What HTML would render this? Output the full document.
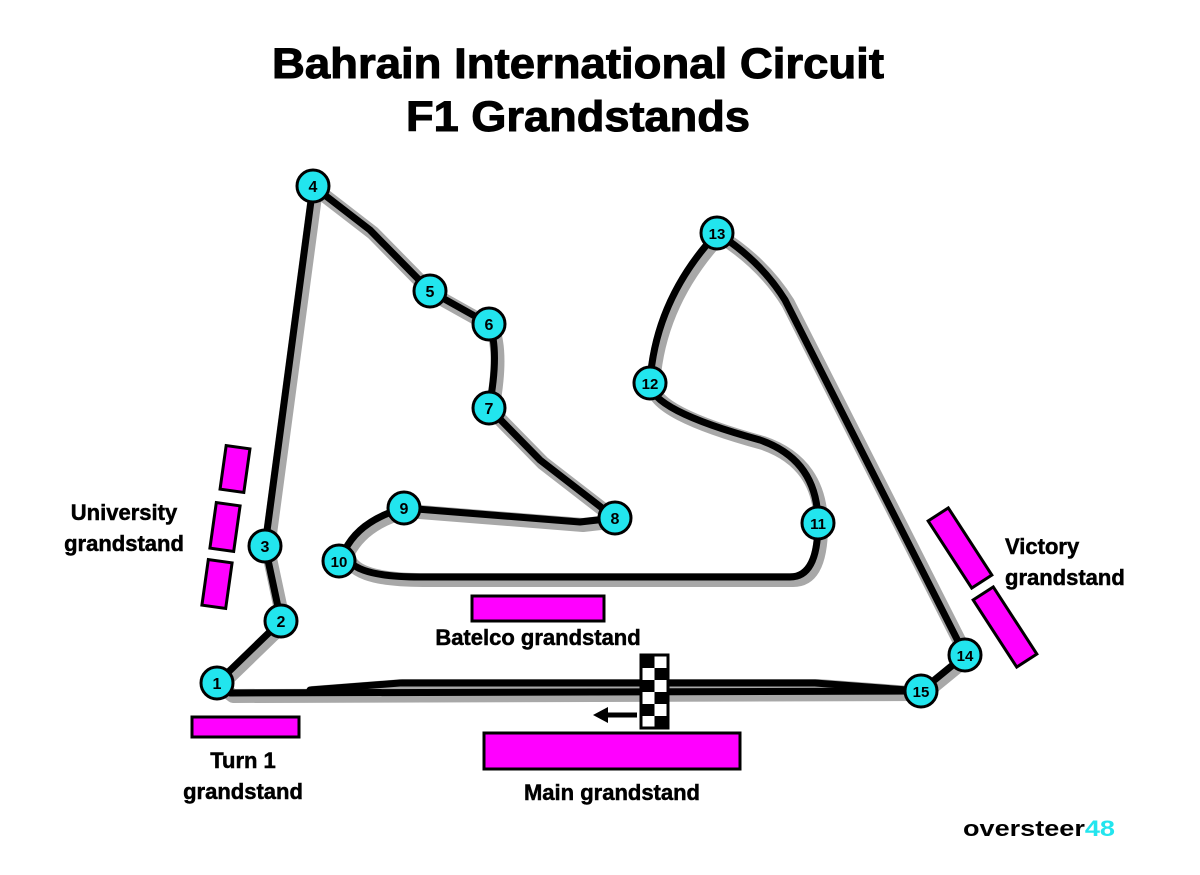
<!DOCTYPE html>
<html><head><meta charset="utf-8"><style>
html,body{margin:0;padding:0;background:#fff;}
svg{display:block;}
text{font-family:"Liberation Sans",sans-serif;font-weight:bold;}
</style></head><body>
<svg width="1200" height="875" viewBox="0 0 1200 875" xmlns="http://www.w3.org/2000/svg">
<rect width="1200" height="875" fill="#fff"/>
<text x="578" y="78" font-size="43" text-anchor="middle" fill="#000" stroke="#000" stroke-width="1" textLength="612" lengthAdjust="spacingAndGlyphs">Bahrain International Circuit</text>
<text x="578" y="131" font-size="43" text-anchor="middle" fill="#000" stroke="#000" stroke-width="1" textLength="344" lengthAdjust="spacingAndGlyphs">F1 Grandstands</text>

<g fill="none" stroke-linejoin="round" stroke-linecap="round">
<g stroke="#a8a8a8" stroke-width="14" transform="translate(3,3)">
<path d="M217,683 L281,621 L265,546 L313,186 L370,230 L430,291 L489,324 Q500,350 489,408 L540,460 L615,518 L580,522 L404,508 Q360,520 345,550 Q345,577 420,577 L790,577 Q818,577 818,523 Q818,460 760,440 Q650,410 650,383 Q655,300 717,233 Q760,260 785,300 L965,655 L921,691 L230,693 Z"/>
<path d="M310,690 L400,683 L815,683 L921,691"/>
</g>
<g stroke="#000" stroke-width="7">
<path d="M217,683 L281,621 L265,546 L313,186 L370,230 L430,291 L489,324 Q500,350 489,408 L540,460 L615,518 L580,522 L404,508 Q360,520 345,550 Q345,577 420,577 L790,577 Q818,577 818,523 Q818,460 760,440 Q650,410 650,383 Q655,300 717,233 Q760,260 785,300 L965,655 L921,691 L230,693 Z"/>
<path d="M310,690 L400,683 L815,683 L921,691"/>
</g>
</g>

<g fill="#ff00ff" stroke="#000" stroke-width="3">
<rect x="472" y="596" width="132" height="25"/>
<rect x="192" y="717" width="107" height="20"/>
<rect x="484" y="733" width="256" height="36"/>
<rect x="-12" y="-22" width="24" height="44" transform="translate(235,469) rotate(8)"/>
<rect x="-12" y="-23" width="24" height="46" transform="translate(225,527) rotate(8)"/>
<rect x="-12" y="-23" width="24" height="46" transform="translate(217,584) rotate(8)"/>
<rect x="-12" y="-40" width="24" height="80" transform="translate(960,548) rotate(-33)"/>
<rect x="-12" y="-40" width="24" height="80" transform="translate(1005,627) rotate(-33)"/>
</g>

<g>
<rect x="641" y="655" width="27" height="73" fill="#fff" stroke="#000" stroke-width="3"/>
<g fill="#000">
<rect x="642" y="656" width="12.5" height="12"/><rect x="654.5" y="668" width="12.5" height="12"/>
<rect x="642" y="680" width="12.5" height="12"/><rect x="654.5" y="692" width="12.5" height="12"/>
<rect x="642" y="704" width="12.5" height="12"/><rect x="654.5" y="716" width="12.5" height="11"/>
</g>
<line x1="605" y1="715" x2="637" y2="715" stroke="#000" stroke-width="5"/>
<polygon points="593,715 608,707 608,723" fill="#000"/>
</g>

<g font-size="16" text-anchor="middle" fill="#000">
<g stroke="#000" stroke-width="3" fill="#22e5ee">
<circle cx="217" cy="683" r="16"/><circle cx="281" cy="621" r="16"/><circle cx="265" cy="546" r="16"/>
<circle cx="313" cy="186" r="16"/><circle cx="430" cy="291" r="16"/><circle cx="489" cy="324" r="16"/>
<circle cx="489" cy="408" r="16"/><circle cx="615" cy="518" r="16"/><circle cx="404" cy="508" r="16"/>
<circle cx="339" cy="561" r="16"/><circle cx="818" cy="523" r="16"/><circle cx="650" cy="383" r="16"/>
<circle cx="717" cy="233" r="16"/><circle cx="965" cy="655" r="16"/><circle cx="921" cy="691" r="16"/>
</g>
<text x="217" y="689">1</text><text x="281" y="627">2</text><text x="265" y="552">3</text>
<text x="313" y="192">4</text><text x="430" y="297">5</text><text x="489" y="330">6</text>
<text x="489" y="414">7</text><text x="615" y="524">8</text><text x="404" y="514">9</text>
<text x="339" y="567" font-size="15">10</text><text x="818" y="529" font-size="15">11</text><text x="650" y="389" font-size="15">12</text>
<text x="717" y="239" font-size="15">13</text><text x="965" y="661" font-size="15">14</text><text x="921" y="697" font-size="15">15</text>
</g>

<g font-size="22" fill="#000" stroke="#000" stroke-width="0.5">
<text x="124" y="520" text-anchor="middle">University</text>
<text x="124" y="551" text-anchor="middle">grandstand</text>
<text x="1005" y="554">Victory</text>
<text x="1005" y="585">grandstand</text>
<text x="538" y="645" text-anchor="middle">Batelco grandstand</text>
<text x="243" y="768" text-anchor="middle">Turn 1</text>
<text x="243" y="799" text-anchor="middle">grandstand</text>
<text x="612" y="800" text-anchor="middle">Main grandstand</text>
</g>
<text x="963" y="836" font-size="22" fill="#000" textLength="152" lengthAdjust="spacingAndGlyphs">oversteer<tspan fill="#22e5ee">48</tspan></text>
</svg>
</body></html>
